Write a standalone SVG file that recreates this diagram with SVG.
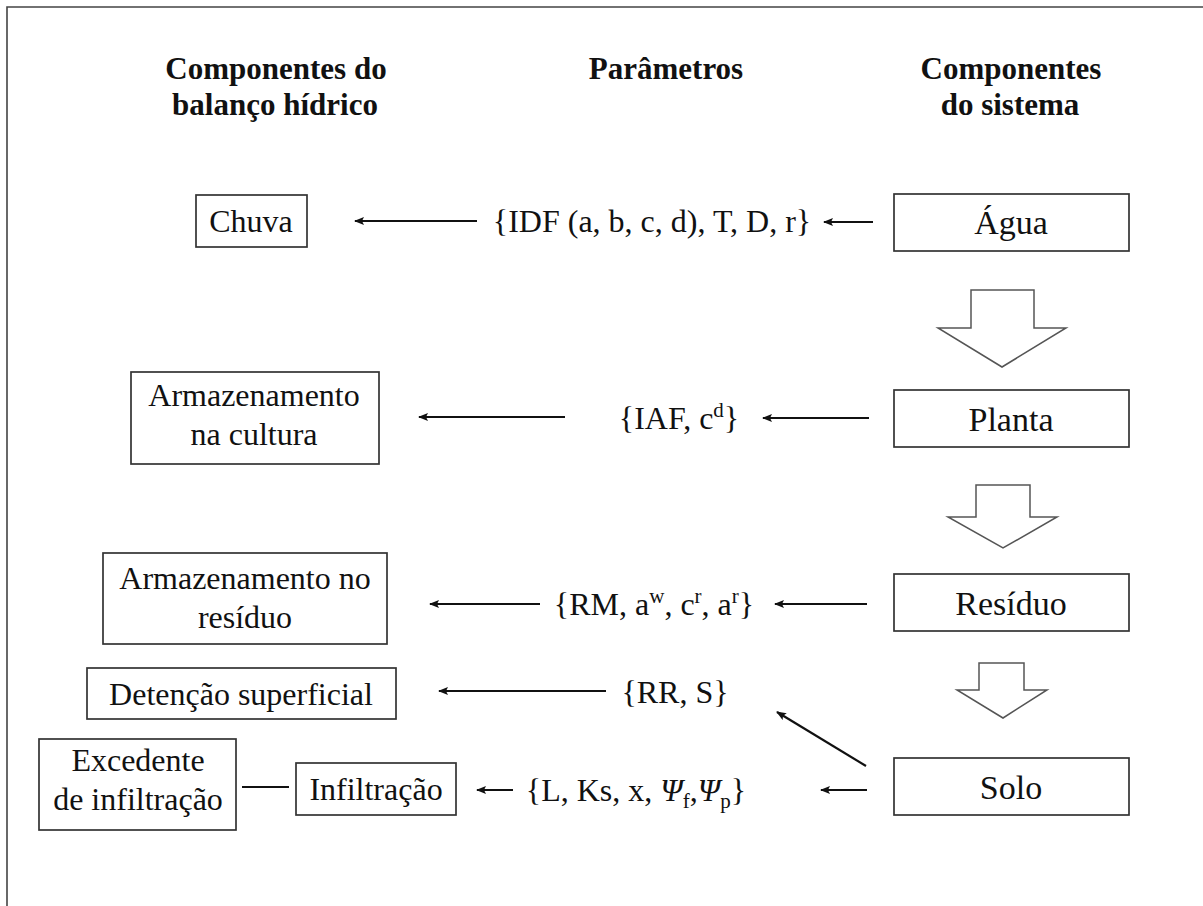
<svg xmlns="http://www.w3.org/2000/svg" width="1203" height="906" viewBox="0 0 1203 906">
<defs>
<style>
.t{font-size:32px;fill:#111;text-anchor:middle}
.r{font-size:34px;fill:#111;text-anchor:middle}
.h{font-size:31px;font-weight:bold;fill:#111;text-anchor:middle}
.box{fill:#fff;stroke:#333;stroke-width:1.7}
.ln{stroke:#111;stroke-width:2.2;fill:none}
.big{fill:#fff;stroke:#555;stroke-width:1.5}
</style>
<marker id="ah" markerWidth="10" markerHeight="8" refX="9" refY="4" orient="auto" markerUnits="userSpaceOnUse">
<path d="M0,0 L10,4 L0,8 L2,4 Z" fill="#111"/>
</marker>
</defs>
<rect x="0" y="0" width="1203" height="906" fill="#fff"/>
<path d="M7,906 V7 H1203" fill="none" stroke="#444" stroke-width="1.6"/>
<g id="headers">
<text class="h" font-family="Liberation Serif, serif" x="276" y="79">Componentes do</text>
<text class="h" font-family="Liberation Serif, serif" x="275" y="115">balanço hídrico</text>
<text class="h" font-family="Liberation Serif, serif" x="666" y="79">Parâmetros</text>
<text class="h" font-family="Liberation Serif, serif" x="1011" y="79">Componentes</text>
<text class="h" font-family="Liberation Serif, serif" x="1010" y="115">do sistema</text>
</g>
<g id="n-chuva"><rect class="box" x="196" y="195" width="111" height="52"/><text class="t" font-family="Liberation Serif, serif" x="251" y="232">Chuva</text></g>
<g id="n-agua"><rect class="box" x="894" y="194" width="235" height="57"/><text class="r" font-family="Liberation Serif, serif" x="1011" y="234">Água</text></g>
<g id="n-cultura"><rect class="box" x="131" y="372" width="248" height="92"/><text class="t" font-family="Liberation Serif, serif" x="254" y="406">Armazenamento</text><text class="t" font-family="Liberation Serif, serif" x="254" y="445">na cultura</text></g>
<g id="n-planta"><rect class="box" x="894" y="390" width="235" height="57"/><text class="r" font-family="Liberation Serif, serif" x="1011" y="431">Planta</text></g>
<g id="n-residuo-arm"><rect class="box" x="103" y="553" width="284" height="91"/><text class="t" font-family="Liberation Serif, serif" x="245" y="589">Armazenamento no</text><text class="t" font-family="Liberation Serif, serif" x="245" y="628">resíduo</text></g>
<g id="n-residuo"><rect class="box" x="894" y="574" width="235" height="57"/><text class="r" font-family="Liberation Serif, serif" x="1011" y="615">Resíduo</text></g>
<g id="n-detencao"><rect class="box" x="87" y="668" width="309" height="51"/><text class="t" font-family="Liberation Serif, serif" font-size="34" x="241" y="705">Detenção superficial</text></g>
<g id="n-excedente"><rect class="box" x="39" y="739" width="197" height="91"/><text class="t" font-family="Liberation Serif, serif" x="138" y="771">Excedente</text><text class="t" font-family="Liberation Serif, serif" x="138" y="810">de infiltração</text></g>
<g id="n-infiltracao"><rect class="box" x="296" y="763" width="160" height="52"/><text class="t" font-family="Liberation Serif, serif" font-size="33" x="376" y="800">Infiltração</text></g>
<g id="n-solo"><rect class="box" x="894" y="758" width="235" height="57"/><text class="r" font-family="Liberation Serif, serif" x="1011" y="799">Solo</text></g>
<g id="params">
<text class="t" font-family="Liberation Serif, serif" x="652" y="232">{IDF (a, b, c, d), T, D, r}</text>
<text class="t" font-family="Liberation Serif, serif" x="679" y="429">{IAF, c<tspan font-size="21" dy="-12">d</tspan><tspan dy="12">}</tspan></text>
<text class="t" font-family="Liberation Serif, serif" x="654" y="615">{RM, a<tspan font-size="21" dy="-12">w</tspan><tspan dy="12">, c</tspan><tspan font-size="21" dy="-12">r</tspan><tspan dy="12">, a</tspan><tspan font-size="21" dy="-12">r</tspan><tspan dy="12">}</tspan></text>
<text class="t" font-family="Liberation Serif, serif" x="675" y="703">{RR, S}</text>
<text class="t" font-family="Liberation Serif, serif" x="636" y="801">{L, Ks, x, <tspan font-style="italic">Ψ</tspan><tspan font-size="21" dy="7">f</tspan><tspan dy="-7">,</tspan><tspan font-style="italic">Ψ</tspan><tspan font-size="21" dy="7">p</tspan><tspan dy="-7">}</tspan></text>
</g>
<g id="connectors">
<line class="ln" x1="477" y1="221" x2="355" y2="221" marker-end="url(#ah)"/>
<line class="ln" x1="873" y1="222" x2="824" y2="222" marker-end="url(#ah)"/>
<line class="ln" x1="565" y1="417" x2="419" y2="417" marker-end="url(#ah)"/>
<line class="ln" x1="869" y1="418" x2="763" y2="418" marker-end="url(#ah)"/>
<line class="ln" x1="540" y1="604" x2="430" y2="604" marker-end="url(#ah)"/>
<line class="ln" x1="867" y1="604" x2="775" y2="604" marker-end="url(#ah)"/>
<line class="ln" x1="606" y1="691" x2="439" y2="691" marker-end="url(#ah)"/>
<line class="ln" x1="866" y1="766" x2="777" y2="712" marker-end="url(#ah)"/>
<line class="ln" x1="242" y1="787" x2="289" y2="787"/>
<line class="ln" x1="513" y1="790" x2="477" y2="790" marker-end="url(#ah)"/>
<line class="ln" x1="867" y1="790" x2="821" y2="790" marker-end="url(#ah)"/>
<path class="big" d="M971,290 H1034 V328 H1066 L1002,367 L938,328 H971 Z"/>
<path class="big" d="M976,485 H1030 V517 H1057 L1003,548 L948,517 H976 Z"/>
<path class="big" d="M979,663 H1024 V690 H1047 L1003,718 L957,690 H979 Z"/>
</g>
</svg>
